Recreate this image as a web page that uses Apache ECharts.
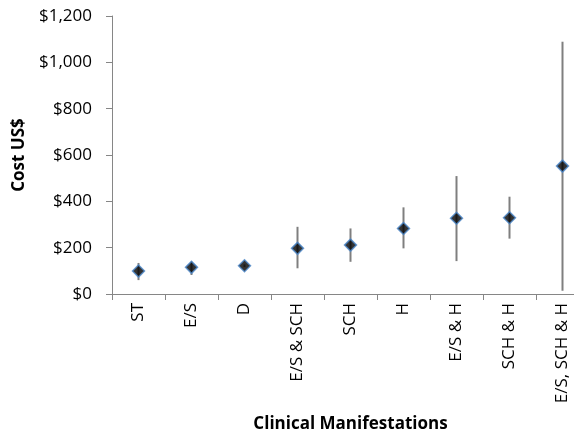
<!DOCTYPE html>
<html><head><meta charset="utf-8">
<script src="https://cdn.jsdelivr.net/npm/echarts@6/dist/echarts.min.js"></script>
<style>html,body{margin:0;padding:0;background:#fff}#c{width:574px;height:436px}</style>
</head><body><div id="c"></div>
<script>
var categories = ['ST','E/S','D','E/S & SCH','SCH','H','E/S & H','SCH & H','E/S, SCH & H'];
var meanCost = [99,115,122,197,211,283,327,329,552];
var lowCost = [60,82,116,111,139,197,142,239,14];
var highCost = [134,139,128,290,283,374,509,420,1089];
var yTicks = [0,200,400,600,800,1000,1200];

var font = 'Open Sans, Liberation Sans, sans-serif';
var chart = echarts.init(document.getElementById('c'));
chart.setOption({
  animation:false,
  grid:{left:112,top:16,width:477,height:278,containLabel:false,outerBoundsMode:'none'},
  xAxis:{type:'category',data:categories,boundaryGap:true,
    name:'Clinical Manifestations',nameLocation:'middle',nameGap:122,
    nameTextStyle:{fontFamily:font,fontSize:17,fontWeight:'bold',color:'#000'},
    axisLine:{lineStyle:{color:'#868686',width:1}},
    axisTick:{show:true,alignWithLabel:false,length:6,lineStyle:{color:'#868686'}},
    axisLabel:{rotate:90,interval:0,fontFamily:font,fontSize:17,color:'#000',margin:9}},
  yAxis:{type:'value',min:yTicks[0],max:yTicks[yTicks.length-1],interval:200,
    name:'Cost US$',nameLocation:'middle',nameGap:84,
    nameTextStyle:{fontFamily:font,fontSize:17,fontWeight:'bold',color:'#000'},
    splitLine:{show:false},
    axisLine:{show:true,lineStyle:{color:'#868686',width:1}},
    axisTick:{show:true,length:6,lineStyle:{color:'#868686'}},
    axisLabel:{fontFamily:font,fontSize:17,color:'#000',margin:20,
      formatter:function(v){return '$'+v.toLocaleString('en-US');}}},
  series:[
    {type:'custom',data:categories.map(function(c,i){return [i,lowCost[i],highCost[i]];}),
      renderItem:function(params,api){
        var lo=api.coord([api.value(0),api.value(1)]);
        var hi=api.coord([api.value(0),api.value(2)]);
        return {type:'line',shape:{x1:lo[0],y1:lo[1],x2:hi[0],y2:hi[1]},
          style:{stroke:'#7f7f7f',lineWidth:2}};
      },z:1},
    {type:'scatter',data:meanCost,symbol:'diamond',symbolSize:[12,12],
      itemStyle:{color:'#000',borderColor:'#4a86c8',borderWidth:1.5},z:2}
  ]
});
</script></body></html>
